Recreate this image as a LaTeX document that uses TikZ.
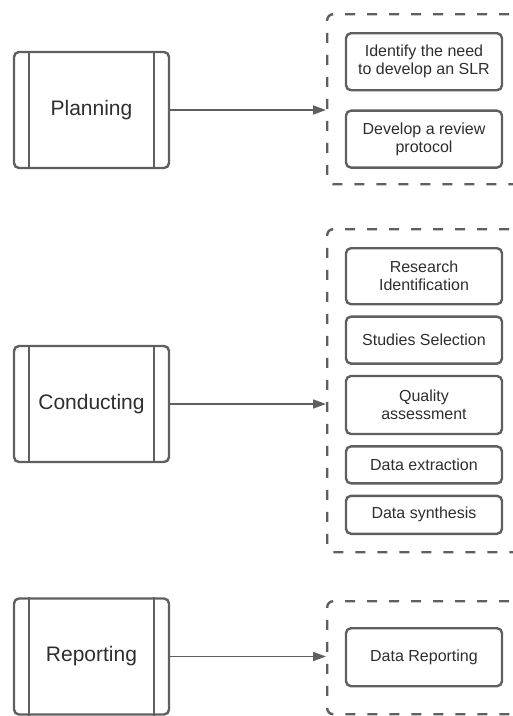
\documentclass[tikz,border=0pt]{standalone}
\usepackage{fontspec}
\setmainfont{Liberation Sans}
\usetikzlibrary{arrows.meta,positioning}
\definecolor{linegray}{HTML}{5F5F5F}
\definecolor{textgray}{HTML}{2E2E2E}

\begin{document}
\begin{tikzpicture}[x=1pt,y=-1pt,node distance=10pt,line width=2.4pt,text=textgray]
	  \tikzstyle{phase}=[draw=linegray,rectangle,rounded corners=5pt,minimum width=155pt,minimum height=116pt,inner sep=0pt,font=\fontsize{21}{25}\selectfont]
	  \tikzstyle{group}=[draw=linegray,rectangle,rounded corners=6pt,dash pattern=on 10pt off 12pt,minimum width=210pt,anchor=north west,inner sep=0pt]
	  \tikzstyle{task}=[draw=linegray,rectangle,rounded corners=5pt,minimum width=156pt,align=center,inner sep=0pt,font=\fontsize{16}{18}\selectfont]
	  \tikzstyle{flow}=[draw=linegray,line width=1.6pt,-{Triangle[length=13pt,width=9pt]}]

	  \useasboundingbox (0,0) rectangle (513,716);

	  \node[phase] (P) at (91.5,110) {Planning};
	  \node[phase] (C) at (91.5,404) {Conducting};
	  \node[phase] (R) at (91.5,656.5) {Reporting};

	  \draw[linegray] ([xshift=16pt]P.north west) -- ([xshift=16pt]P.south west);
	  \draw[linegray] ([xshift=-16pt]P.north east) -- ([xshift=-16pt]P.south east);
	  \draw[linegray] ([xshift=16pt]C.north west) -- ([xshift=16pt]C.south west);
	  \draw[linegray] ([xshift=-16pt]C.north east) -- ([xshift=-16pt]C.south east);
	  \draw[linegray] ([xshift=16pt]R.north west) -- ([xshift=16pt]R.south west);
	  \draw[linegray] ([xshift=-16pt]R.north east) -- ([xshift=-16pt]R.south east);

	  \node[group,minimum height=170pt] (Pg) at (326,13) {};
	  \node[group,minimum height=323pt] (Cg) at (326,228) {};
	  \node[group,minimum height=113pt] (Rg) at (326,600) {};

	  \node[task,minimum height=57pt,anchor=north] (P1) at (424,32) {Identify the need\\to develop an SLR};
	  \node[task,minimum height=57pt,below=18pt of P1] (P2) {Develop a review\\protocol};

	  \node[task,minimum height=56pt,anchor=north] (C1) at (424,247) {Research\\Identification};
	  \node[task,minimum height=47pt,below=of C1] (C2) {Studies Selection};
	  \node[task,minimum height=58pt,below=of C2] (C3) {Quality\\assessment};
	  \node[task,minimum height=37pt,below=of C3] (C4) {Data extraction};
	  \node[task,minimum height=38pt,below=of C4] (C5) {Data synthesis};

	  \node[task,minimum height=58pt,anchor=north] (R1) at (424,627) {Data Reporting};

	  \path
	  (P) edge[flow] (P -| Pg.west)
	  (C) edge[flow] (C -| Cg.west)
	  (R) edge[flow] (R -| Rg.west)
	  ;
	\end{tikzpicture}
\end{document}
